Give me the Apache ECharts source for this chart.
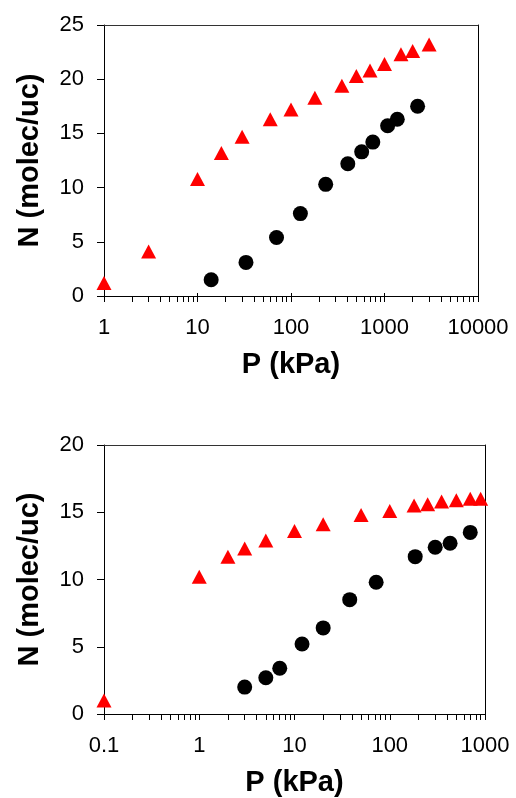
<!DOCTYPE html>
<html>
<head>
<meta charset="utf-8">
<script src="https://cdn.jsdelivr.net/npm/echarts@6/dist/echarts.min.js"></script>
<style>
html,body{margin:0;padding:0;background:#fff}
#chart{width:516px;height:798px}
</style>
</head>
<body>
<div id="chart"></div>
<script>
// top panel
var topTriP = [1, 3, 10, 18, 30, 60, 100, 180, 350, 500, 700, 1000, 1500, 2000, 3000];
var topTriN = [1.2, 4.1, 10.8, 13.2, 14.7, 16.3, 17.2, 18.3, 19.4, 20.3, 20.8, 21.4, 22.3, 22.6, 23.2];
var topCirP = [14, 33, 70, 126, 235, 405, 570, 750, 1080, 1370, 2260];
var topCirN = [1.5, 3.1, 5.4, 7.6, 10.3, 12.2, 13.3, 14.2, 15.7, 16.3, 17.5];
// bottom panel
var botTriP = [0.1, 1, 2, 3, 5, 10, 20, 50, 100, 180, 250, 350, 500, 700, 900];
var botTriN = [1.0, 10.2, 11.7, 12.3, 12.9, 13.6, 14.1, 14.8, 15.1, 15.5, 15.6, 15.8, 15.9, 16.0, 16.0];
var botCirP = [3, 5, 7, 12, 20, 38, 72, 185, 300, 430, 700];
var botCirN = [2.0, 2.7, 3.4, 5.2, 6.4, 8.5, 9.8, 11.7, 12.4, 12.7, 13.5];
// axis ticks
var topXTicks = [1, 10, 100, 1000, 10000];
var botXTicks = [0.1, 1, 10, 100, 1000];
var topYMax = 25, botYMax = 20, yStep = 5;

var FONT = 'Liberation Sans, Arial, sans-serif';

function zip(a, b) {
    var out = [];
    for (var i = 0; i < a.length; i++) out.push([a[i], b[i]]);
    return out;
}
// 1..9 in each decade
function minorTicks(decades) {
    var out = [];
    for (var i = 0; i < decades.length - 1; i++) {
        for (var k = 1; k < 10; k++) out.push(+(k * decades[i]).toPrecision(6));
    }
    out.push(decades[decades.length - 1]);
    return out;
}

function mainX(grid, ticks) {
    return {
        type: 'log', gridIndex: grid, position: 'bottom',
        min: ticks[0], max: ticks[ticks.length - 1],
        name: 'P (kPa)', nameLocation: 'middle', nameGap: 54,
        nameTextStyle: {fontFamily: FONT, fontSize: 29, fontWeight: 'bold', color: '#000'},
        axisLine: {onZero: false, lineStyle: {color: '#000', width: 1}},
        axisTick: {show: true, inside: false, length: 6, customValues: minorTicks(ticks), lineStyle: {color: '#000'}},
        axisLabel: {
            customValues: ticks, margin: 21,
            fontFamily: FONT, fontSize: 22, color: '#000',
            formatter: function (v) { return String(+(+v).toPrecision(6)); }
        },
        splitLine: {show: false}
    };
}
// top frame line
function borderX(grid) {
    return {
        type: 'value', gridIndex: grid, position: 'top', min: 0, max: 1,
        axisLine: {show: true, onZero: false, lineStyle: {color: '#333', width: 1}},
        axisTick: {show: false}, axisLabel: {show: false}, splitLine: {show: false}
    };
}
function overlayX(grid, ticks) {
    return {
        type: 'log', gridIndex: grid, position: 'bottom',
        min: ticks[0], max: ticks[ticks.length - 1],
        axisLine: {show: false, onZero: false},
        axisTick: {show: true, inside: true, length: 3, customValues: ticks, lineStyle: {color: '#000'}},
        axisLabel: {show: false}, splitLine: {show: false}
    };
}
function mainY(grid, max) {
    return {
        type: 'value', gridIndex: grid, position: 'left',
        min: 0, max: max, interval: yStep,
        name: 'N (molec/uc)', nameLocation: 'middle', nameGap: 60,
        nameTextStyle: {fontFamily: FONT, fontSize: 29, fontWeight: 'bold', color: '#000'},
        axisLine: {show: true, onZero: false, lineStyle: {color: '#000', width: 1}},
        axisTick: {show: true, inside: false, length: 7, lineStyle: {color: '#000'}},
        axisLabel: {margin: 20, fontFamily: FONT, fontSize: 22, color: '#000'},
        splitLine: {show: false}
    };
}
// right frame line
function borderY(grid, max) {
    return {
        type: 'value', gridIndex: grid, position: 'right',
        min: 0, max: max, interval: yStep,
        axisLine: {show: true, onZero: false, lineStyle: {color: '#000', width: 1}},
        axisTick: {show: false}, axisLabel: {show: false}, splitLine: {show: false}
    };
}
function hiddenY(grid, max) {
    return {type: 'value', gridIndex: grid, min: 0, max: max, show: false};
}

var topRect = {left: 104, top: 25, width: 374, height: 271};
var botRect = {left: 104, top: 445, width: 381, height: 272};

var myChart = echarts.init(document.getElementById('chart'));
var option = {
    backgroundColor: '#fff',
    animation: false,
    grid: [topRect, botRect, topRect, botRect],
    xAxis: [
        mainX(0, topXTicks), borderX(0),
        mainX(1, botXTicks), borderX(1),
        overlayX(2, topXTicks), overlayX(3, botXTicks)
    ],
    yAxis: [
        mainY(0, topYMax), borderY(0, topYMax),
        mainY(1, botYMax), borderY(1, botYMax),
        hiddenY(2, topYMax), hiddenY(3, botYMax)
    ],
    series: [
        {type: 'scatter', xAxisIndex: 0, yAxisIndex: 0, clip: false, symbol: 'triangle', symbolSize: [15, 14],
            itemStyle: {color: '#ff0000', opacity: 1}, data: zip(topTriP, topTriN)},
        {type: 'scatter', xAxisIndex: 0, yAxisIndex: 0, clip: false, symbol: 'circle', symbolSize: 15,
            itemStyle: {color: '#000', opacity: 1}, data: zip(topCirP, topCirN)},
        {type: 'scatter', xAxisIndex: 2, yAxisIndex: 2, clip: false, symbol: 'triangle', symbolSize: [15, 14],
            itemStyle: {color: '#ff0000', opacity: 1}, data: zip(botTriP, botTriN)},
        {type: 'scatter', xAxisIndex: 2, yAxisIndex: 2, clip: false, symbol: 'circle', symbolSize: 15,
            itemStyle: {color: '#000', opacity: 1}, data: zip(botCirP, botCirN)}
    ]
};
myChart.setOption(option);
</script>
</body>
</html>
